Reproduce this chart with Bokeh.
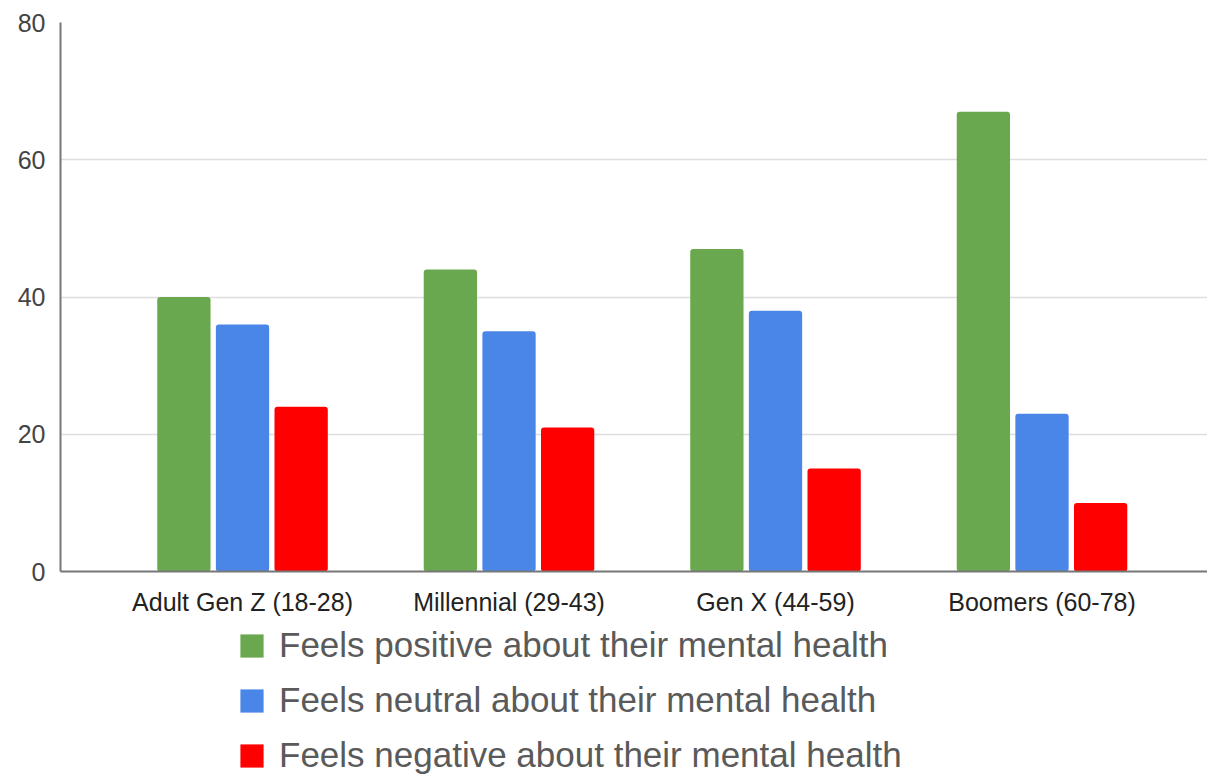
from bokeh.plotting import figure
from bokeh.layouts import column
from bokeh.models import Range1d, FixedTicker, Legend, LegendItem, ColumnDataSource
from bokeh.embed import file_html
from bokeh.resources import INLINE

categories = ["Adult Gen Z (18-28)", "Millennial (29-43)", "Gen X (44-59)", "Boomers (60-78)"]
positive = [40, 44, 47, 67]
neutral = [36, 35, 38, 23]
negative = [24, 21, 15, 10]
series_names = ["Feels positive about their mental health",
                "Feels neutral about their mental health",
                "Feels negative about their mental health"]
colors = ["#6aa84f", "#4a86e8", "#ff0000"]
y_ticks = [0, 20, 40, 60, 80]

p = figure(width=1207, height=618,
           output_backend="svg", toolbar_location=None,
           x_range=Range1d(-0.683, 3.621), y_range=Range1d(0, 80),
           min_border_left=60, min_border_right=0, min_border_top=22, min_border_bottom=47)
p.outline_line_color = None
p.background_fill_color = "white"
p.border_fill_color = "white"

idx = list(range(len(categories)))
offsets = [-0.22, 0.0, 0.22]
for vals, off, col in zip([positive, neutral, negative], offsets, colors):
    src = ColumnDataSource(dict(x=[i + off for i in idx], top=vals))
    p.vbar(x="x", top="top", width=0.2, bottom=0, source=src, fill_color=col,
           line_color=None, border_radius=3)

p.xaxis.ticker = FixedTicker(ticks=idx)
p.xaxis.major_label_overrides = {i: c for i, c in zip(idx, categories)}
p.xaxis.major_label_text_font = "Liberation Sans"
p.xaxis.major_label_text_font_size = "25px"
p.xaxis.major_label_text_color = "#222222"
p.xaxis.major_label_standoff = 10
p.xaxis.major_tick_line_color = None
p.xaxis.minor_tick_line_color = None
p.xaxis.axis_line_color = "#777777"
p.xaxis.axis_line_width = 2

p.yaxis.ticker = FixedTicker(ticks=y_ticks)
p.yaxis.major_label_text_font = "Liberation Sans"
p.yaxis.major_label_text_font_size = "25px"
p.yaxis.major_label_text_color = "#444444"
p.yaxis.major_label_standoff = 9
p.yaxis.major_tick_line_color = None
p.yaxis.minor_tick_line_color = None
p.yaxis.axis_line_color = "#777777"
p.yaxis.axis_line_width = 2

p.xgrid.grid_line_color = None
p.ygrid.grid_line_color = "#dddddd"
p.ygrid.grid_line_width = 1.5

# legend figure below the chart (swatch glyphs have zero height, so only the legend shows them)
lf = figure(width=1207, height=159, output_backend="svg", toolbar_location=None,
            x_range=Range1d(0, 1), y_range=Range1d(0, 1),
            min_border_left=60, min_border_right=0, min_border_top=0, min_border_bottom=0)
lf.axis.visible = False
lf.grid.grid_line_color = None
lf.outline_line_color = None
lf.background_fill_color = "white"
leg_renderers = []
for col in colors:
    leg_renderers.append(lf.vbar(x=[0.5], top=[0], bottom=[0], width=0.1,
                                 fill_color=col, line_color=None))

legend = Legend(items=[LegendItem(label=n, renderers=[r]) for n, r in zip(series_names, leg_renderers)],
                location=(177, 2), orientation="vertical",
                glyph_width=29, glyph_height=29, label_standoff=13,
                label_text_font="Liberation Sans", label_text_font_size="35px",
                label_text_color="#5a5a5a", label_height=29, spacing=15,
                padding=0, margin=0, border_line_color=None, background_fill_alpha=0)
lf.add_layout(legend, "center")

layout = column(p, lf, spacing=0)
open("out.html", "w").write(file_html(layout, INLINE))
